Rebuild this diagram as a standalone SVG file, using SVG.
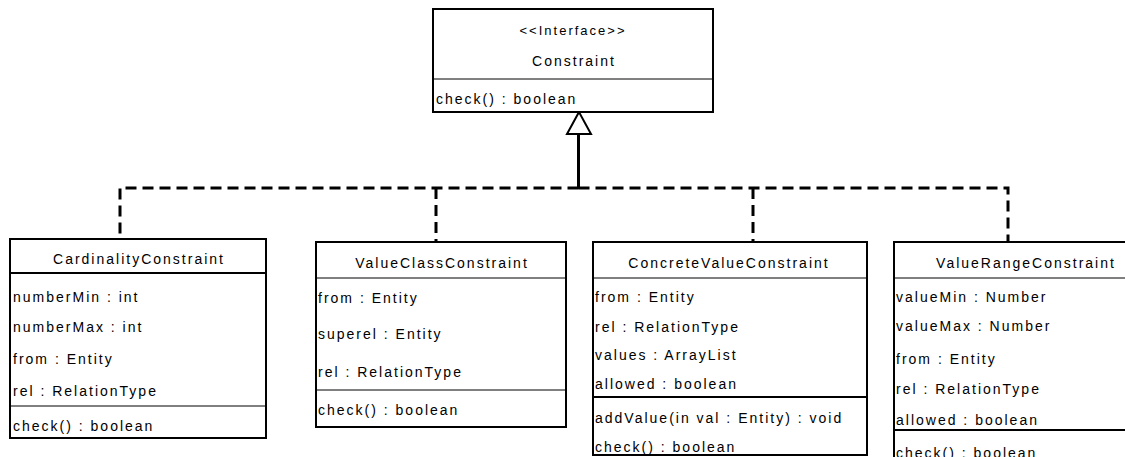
<svg xmlns="http://www.w3.org/2000/svg" width="1125" height="457" viewBox="0 0 1125 457">
<style>
.box{fill:#fff;stroke:#000;stroke-width:2}
.div{stroke:#000;stroke-width:1}
.divb{stroke:#000;stroke-width:2}
text{font-family:"Liberation Sans",Arial,sans-serif;font-size:14px;letter-spacing:2px;fill:#000}
.c{text-anchor:middle}
.dash{fill:none;stroke:#000;stroke-width:3;stroke-dasharray:11 6}
</style>
<rect width="1125" height="457" fill="#fff"/>
<g id="connectors">
<path class="dash" d="M578.5,188 H120 V239"/>
<path class="dash" d="M578.5,188 H1008 V242"/>
<path class="dash" d="M436,188 V242"/>
<path class="dash" d="M753,188 V242"/>
<line x1="578.5" y1="134" x2="578.5" y2="189" stroke="#000" stroke-width="3"/>
<polygon points="579,112 567,134 591,134" fill="#fff" stroke="#000" stroke-width="2"/>
</g>
<g id="Constraint">
<rect class="box" x="433" y="9" width="280" height="103"/>
<line class="div" x1="433" y1="79" x2="713" y2="79"/>
<text class="c" x="573" y="35" style="font-size:13px">&lt;&lt;Interface&gt;&gt;</text>
<text class="c" x="574" y="66">Constraint</text>
<text x="436" y="104">check() : boolean</text>
</g>
<g id="CardinalityConstraint">
<rect class="box" x="10" y="239" width="256" height="199"/>
<line class="divb" x1="10" y1="273" x2="266" y2="273"/>
<line class="div" x1="10" y1="406" x2="266" y2="406"/>
<text class="c" x="139" y="264">CardinalityConstraint</text>
<text x="13" y="302">numberMin : int</text>
<text x="13" y="332">numberMax : int</text>
<text x="13" y="364">from : Entity</text>
<text x="13" y="396">rel : RelationType</text>
<text x="13" y="431">check() : boolean</text>
</g>
<g id="ValueClassConstraint">
<rect class="box" x="316" y="242" width="250" height="185"/>
<line class="div" x1="316" y1="278" x2="566" y2="278"/>
<line class="div" x1="316" y1="390" x2="566" y2="390"/>
<text class="c" x="442" y="268">ValueClassConstraint</text>
<text x="318" y="303">from : Entity</text>
<text x="318" y="339">superel : Entity</text>
<text x="318" y="377">rel : RelationType</text>
<text x="318" y="415">check() : boolean</text>
</g>
<g id="ConcreteValueConstraint">
<rect class="box" x="593" y="242" width="274" height="213"/>
<line class="div" x1="593" y1="278" x2="867" y2="278"/>
<line class="divb" x1="593" y1="397" x2="867" y2="397"/>
<text class="c" x="729" y="268">ConcreteValueConstraint</text>
<text x="595" y="302">from : Entity</text>
<text x="595" y="332">rel : RelationType</text>
<text x="595" y="360">values : ArrayList</text>
<text x="595" y="389">allowed : boolean</text>
<text x="595" y="423">addValue(in val : Entity) : void</text>
<text x="595" y="452">check() : boolean</text>
</g>
<g id="ValueRangeConstraint">
<rect class="box" x="894" y="242" width="262" height="240"/>
<line class="div" x1="894" y1="278" x2="1156" y2="278"/>
<line class="divb" x1="894" y1="430" x2="1156" y2="430"/>
<text class="c" x="1026" y="268">ValueRangeConstraint</text>
<text x="896" y="302">valueMin : Number</text>
<text x="896" y="331">valueMax : Number</text>
<text x="896" y="364">from : Entity</text>
<text x="896" y="394">rel : RelationType</text>
<text x="896" y="425">allowed : boolean</text>
<text x="896" y="458">check() : boolean</text>
</g>
</svg>
